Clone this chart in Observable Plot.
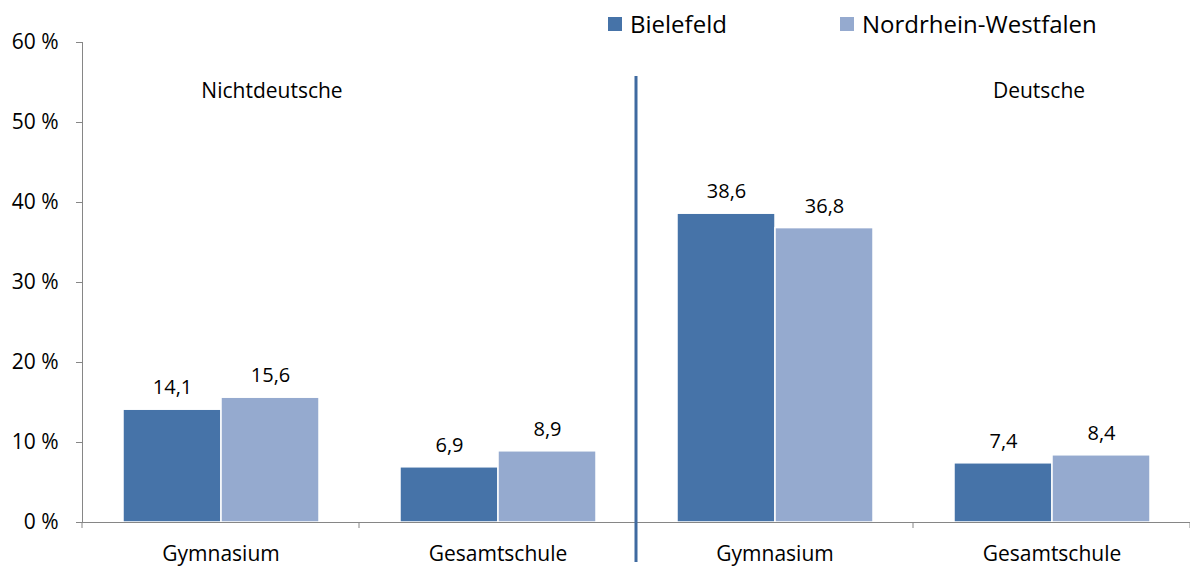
<!DOCTYPE html>
<html>
<head>
<meta charset="utf-8">
<script src="https://cdn.jsdelivr.net/npm/d3@7"></script>
<script src="https://cdn.jsdelivr.net/npm/@observablehq/plot@0.6"></script>
<style>
  html, body { margin: 0; padding: 0; background: #fff; }
  #chart { position: relative; width: 1190px; height: 567px; font-family: "Open Sans", sans-serif; }
  #chart svg text { fill: #000; }
  #chart svg g[aria-label="y-axis tick label"] { font-size: 21px; }
  #chart svg g[aria-label="fx-axis tick label"] { font-size: 21px; }
  .lg-item { position: absolute; display: flex; align-items: center; font-size: 24px; line-height: 28px; color: #000; white-space: nowrap; }
  .lg-sw { width: 14px; height: 14px; margin-right: 8px; }
</style>
</head>
<body>
<div id="chart"></div>
<script>
// ---- data ----
const groups = ["Nichtdeutsche", "Nichtdeutsche", "Deutsche", "Deutsche"];
const schools = ["Gymnasium", "Gesamtschule", "Gymnasium", "Gesamtschule"];
const series = ["Bielefeld", "Nordrhein-Westfalen"];
const bielefeld = [14.1, 6.9, 38.6, 7.4];
const nrw = [15.6, 8.9, 36.8, 8.4];
const yTicks = [0, 10, 20, 30, 40, 50, 60];
const colors = ["#4673A8", "#95AACF"];

// ---- build table ----
const keys = groups.map((g, i) => `${g}|${schools[i]}`);
const rows = [];
keys.forEach((k, i) => {
  rows.push({ key: k, series: series[0], value: bielefeld[i] });
  rows.push({ key: k, series: series[1], value: nrw[i] });
});
const fmt = v => d3.format(".1f")(v).replace(".", ",");
const axisGray = "#868686";

const chart = Plot.plot({
  width: 1190,
  height: 567,
  marginLeft: 81,
  marginRight: 0,
  marginTop: 42,
  marginBottom: 45,
  style: { fontFamily: "Open Sans", fontSize: "20px", color: axisGray, background: "transparent", overflow: "visible" },
  fx: { domain: keys, padding: 0, axis: "bottom", label: null, tickSize: 0, tickPadding: 24, tickFormat: k => k.split("|")[1] },
  x: { domain: series, paddingInner: 0, paddingOuter: 0.4, axis: null },
  y: { domain: [0, 60], ticks: yTicks, tickFormat: d => `${d} %`, tickSize: 6, tickPadding: 18, label: null, line: true },
  color: { domain: series, range: colors },
  marks: [
    Plot.barY(rows, { fx: "key", x: "series", y: "value", fill: "series", stroke: "white", strokeWidth: 1.5 }),
    Plot.ruleY([0], { stroke: axisGray, strokeWidth: 1 }),
    Plot.text(rows, { fx: "key", x: "series", y: "value", text: d => fmt(d.value), dy: -22, fontSize: 20, fill: "#000" }),
    Plot.text([{ key: keys[0], label: groups[0] }], { fx: "key", text: "label", frameAnchor: "top", dy: 41, dx: 51, fontSize: 21, fill: "#000" }),
    Plot.text([{ key: keys[3], label: groups[2] }], { fx: "key", text: "label", frameAnchor: "top", dy: 41, dx: -13, fontSize: 21, fill: "#000" })
  ]
});

document.getElementById("chart").appendChild(chart);

// category boundary ticks and group divider, placed with Plot's own scales
const fxs = chart.scale("fx");
const ys = chart.scale("y");
const y0 = ys.apply(0);
const bounds = keys.map(k => fxs.apply(k)).concat([fxs.apply(keys[keys.length - 1]) + fxs.bandwidth]);
const svg = d3.select(chart);
svg.append("g").selectAll("line").data(bounds).join("line")
  .attr("x1", d => d).attr("x2", d => d)
  .attr("y1", y0).attr("y2", y0 + 6)
  .attr("stroke", axisGray).attr("stroke-width", 1);
svg.append("line")
  .attr("x1", bounds[2]).attr("x2", bounds[2])
  .attr("y1", ys.apply(60) + 34).attr("y2", 562)
  .attr("stroke", "#3F6AA0").attr("stroke-width", 3);

// legend
const legendPos = [608, 840];
series.forEach((s, i) => {
  const item = document.createElement("div");
  item.className = "lg-item";
  item.style.left = legendPos[i] + "px";
  item.style.top = "10px";
  const sw = document.createElement("span");
  sw.className = "lg-sw";
  sw.style.background = colors[i];
  const t = document.createElement("span");
  t.textContent = s;
  item.appendChild(sw);
  item.appendChild(t);
  document.getElementById("chart").appendChild(item);
});
</script>
</body>
</html>
